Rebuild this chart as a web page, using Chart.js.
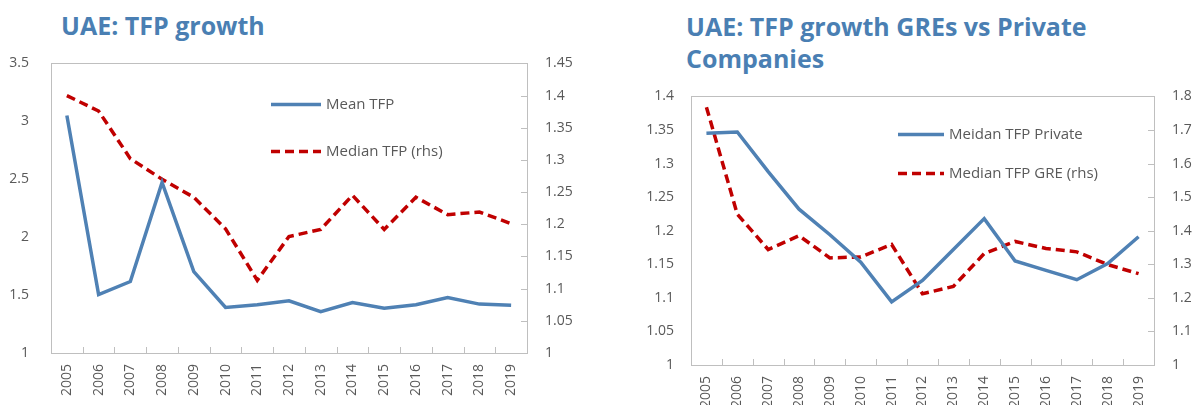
<!DOCTYPE html>
<html>
<head>
<meta charset="utf-8">
<script src="https://cdn.jsdelivr.net/npm/chart.js@4.4.0/dist/chart.umd.min.js"></script>
<style>
  body { margin: 0; background: #fff; width: 1192px; height: 405px; overflow: hidden; position: relative; font-family: "Open Sans", sans-serif; }
  .title { position: absolute; font-weight: bold; font-size: 25px; line-height: 32px; color: #4a7fb3; white-space: nowrap; }
  canvas { position: absolute; }
</style>
</head>
<body>
<div class="title" style="left:61px; top:9px;">UAE: TFP growth</div>
<div class="title" style="left:686px; top:10px;">UAE: TFP growth GREs vs Private<br>Companies</div>
<canvas id="chartLeft" width="596" height="372" style="left:0; top:33px;"></canvas>
<canvas id="chartRight" width="592" height="335" style="left:600px; top:70px;"></canvas>
<script>
const years = ['2005', '2006', '2007', '2008', '2009', '2010', '2011', '2012', '2013', '2014', '2015', '2016', '2017', '2018', '2019'];

// left chart
const meanTfp = [3.05, 1.505, 1.617, 2.472, 1.703, 1.393, 1.416, 1.451, 1.356, 1.436, 1.387, 1.416, 1.479, 1.422, 1.413];
const medianTfp = [1.400, 1.376, 1.302, 1.270, 1.242, 1.193, 1.113, 1.181, 1.192, 1.245, 1.192, 1.242, 1.215, 1.219, 1.201];

// right chart
const privateTfp = [1.345, 1.347, 1.288, 1.232, 1.194, 1.153, 1.094, 1.126, 1.172, 1.218, 1.155, 1.141, 1.127, 1.151, 1.191];
const greTfp = [1.768, 1.449, 1.344, 1.385, 1.319, 1.322, 1.359, 1.212, 1.234, 1.332, 1.368, 1.347, 1.337, 1.299, 1.272];

const blue = '#4f81b4';
const red = '#c00000';
const axisGrey = '#bfbfbf';
const textGrey = '#595959';
const fmt = v => String(+Number(v).toFixed(2));

// top edge of the frame + small inside tick marks
const framePlugin = {
    id: 'plotFrame',
    afterDatasetsDraw(chart) {
        const a = chart.chartArea;
        const ctx = chart.ctx;
        ctx.save();
        ctx.strokeStyle = axisGrey;
        ctx.lineWidth = 1;
        ctx.setLineDash([]);
        ctx.beginPath();
        const top = Math.round(a.top) + 0.5;
        ctx.moveTo(a.left, top);
        ctx.lineTo(a.right, top);
        const x = chart.scales.x;
        for (let i = 1; i < years.length; i++) {
            const px = Math.round((x.getPixelForValue(i - 1) + x.getPixelForValue(i)) / 2) + 0.5;
            ctx.moveTo(px, a.bottom);
            ctx.lineTo(px, a.bottom - 6);
        }
        const y1 = chart.scales.y1;
        for (let i = 1; i < y1.ticks.length - 1; i++) {
            const py = Math.round(y1.getPixelForValue(y1.ticks[i].value)) + 0.5;
            ctx.moveTo(a.right, py);
            ctx.lineTo(a.right - 6, py);
        }
        ctx.stroke();
        ctx.restore();
    }
};

const legendPlugin = {
    id: 'boxLegend',
    afterDraw(chart, args, opts) {
        const a = chart.chartArea;
        const ctx = chart.ctx;
        ctx.save();
        chart.data.datasets.forEach((ds, i) => {
            const y = a.top + opts.rows[i];
            const x0 = a.left + opts.left;
            ctx.beginPath();
            ctx.strokeStyle = ds.borderColor;
            ctx.lineWidth = 3.5;
            ctx.setLineDash(ds.borderDash || []);
            ctx.moveTo(x0, y);
            ctx.lineTo(x0 + opts.lineLen, y);
            ctx.stroke();
            ctx.setLineDash([]);
            ctx.fillStyle = textGrey;
            ctx.font = '15px "Open Sans"';
            ctx.textBaseline = 'middle';
            ctx.fillText(ds.label, x0 + opts.lineLen + 5, y);
        });
        ctx.restore();
    }
};

function makeChart(id, labelsA, dataA, labelsB, dataB, yA, yB, sizes, legend) {
    const tickFont = { family: 'Open Sans', size: 14 };
    const edge = { display: true, drawOnChartArea: false, drawTicks: false, tickLength: 0, color: axisGrey };
    const border = { display: true, color: axisGrey, width: 1 };
    return new Chart(document.getElementById(id), {
        type: 'line',
        data: {
            labels: years,
            datasets: [{
                label: labelsA,
                data: dataA,
                borderColor: blue,
                borderWidth: 3.5,
                pointRadius: 0,
                yAxisID: 'y'
            }, {
                label: labelsB,
                data: dataB,
                borderColor: red,
                borderWidth: 3.5,
                borderDash: [9, 5],
                pointRadius: 0,
                yAxisID: 'y1'
            }]
        },
        plugins: [framePlugin, legendPlugin],
        options: {
            responsive: false,
            animation: false,
            layout: { padding: 0 },
            plugins: {
                legend: { display: false },
                tooltip: { enabled: false },
                boxLegend: legend
            },
            scales: {
                x: {
                    offset: true,
                    grid: edge,
                    border: border,
                    ticks: { color: textGrey, font: tickFont, minRotation: 90, maxRotation: 90, padding: 11, autoSkip: false },
                    afterFit: s => { s.height = sizes.bottom; }
                },
                y: {
                    position: 'left',
                    min: yA.min, max: yA.max,
                    grid: edge,
                    border: border,
                    ticks: { color: textGrey, font: tickFont, stepSize: yA.step, padding: sizes.padL, callback: fmt },
                    afterFit: s => { s.width = sizes.left; }
                },
                y1: {
                    position: 'right',
                    min: yB.min, max: yB.max,
                    grid: edge,
                    border: border,
                    ticks: { color: textGrey, font: tickFont, stepSize: yB.step, padding: sizes.padR, callback: fmt },
                    afterFit: s => { s.width = sizes.right; }
                }
            }
        }
    });
}

makeChart('chartLeft', 'Mean TFP', meanTfp, 'Median TFP (rhs)', medianTfp,
    { min: 1, max: 3.5, step: 0.5 }, { min: 1, max: 1.45, step: 0.05 },
    { bottom: 52, left: 51, right: 69, padL: 22, padR: 18 },
    { left: 220, lineLen: 50, rows: [41, 88] });

makeChart('chartRight', 'Meidan TFP Private', privateTfp, 'Median TFP GRE (rhs)', greTfp,
    { min: 1, max: 1.4, step: 0.05 }, { min: 1, max: 1.8, step: 0.1 },
    { bottom: 40, left: 91, right: 38, padL: 17, padR: 18 },
    { left: 207, lineLen: 46, rows: [38, 77] });
</script>
</body>
</html>
